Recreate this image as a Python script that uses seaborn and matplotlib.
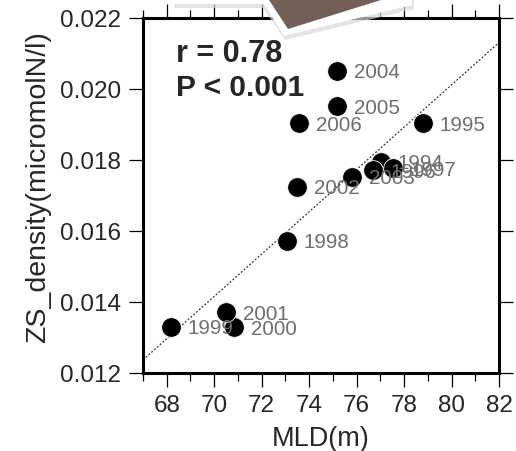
import numpy as np
import pandas as pd
import matplotlib.pyplot as plt
import seaborn as sns
from matplotlib.ticker import MultipleLocator
from matplotlib.patches import Polygon

# -----------------------------
# Data
# -----------------------------
years = ["1994", "1995", "1996", "1997", "1998", "1999", "2000",
         "2001", "2002", "2003", "2004", "2005", "2006"]
mld = [77.01, 78.78, 76.70, 77.54, 73.05, 68.16, 70.83,
       70.49, 73.47, 75.79, 75.16, 75.16, 73.57]
zs_density = [0.01795, 0.01903, 0.01772, 0.01777, 0.01573, 0.01330, 0.01329,
              0.01371, 0.01725, 0.01753, 0.02052, 0.01952, 0.01903]

# regression line end points
fit_x = [67.0, 82.0]
fit_y = [0.01237, 0.02131]

df = pd.DataFrame({"year": years, "MLD": mld, "ZS": zs_density})

sns.set_style("ticks")
plt.rcParams["font.family"] = ["Liberation Sans", "DejaVu Sans"]

fig = plt.figure(figsize=(5.16, 4.51), dpi=100)
ax = fig.add_axes([0.2771, 0.1729, 0.69, 0.7871])

# fitted line
sns.lineplot(x=fit_x, y=fit_y, ax=ax, color="#333333",
             linestyle=(0, (1.5, 1.5)), linewidth=0.9, zorder=1)

# points
sns.scatterplot(data=df, x="MLD", y="ZS", ax=ax, color="black",
                edgecolor="white", linewidth=0.6, s=200, zorder=3)

for yr, x, y in zip(years, mld, zs_density):
    ax.annotate(yr, (x, y), xytext=(12.5, -1.5), textcoords="offset points",
                ha="left", va="center", fontsize=14.8, color="#6e6e6e",
                zorder=4)

ax.text(0.093, 0.898, "r = 0.78", transform=ax.transAxes, fontsize=22,
        fontweight="bold", ha="left", va="center")
ax.text(0.093, 0.803, "P < 0.001", transform=ax.transAxes, fontsize=21.5,
        fontweight="bold", ha="left", va="center")

# -----------------------------
# Axes styling
# -----------------------------
ax.set_xlim(67, 82)
ax.set_ylim(0.012, 0.022)
ax.xaxis.set_major_locator(MultipleLocator(2))
ax.xaxis.set_minor_locator(MultipleLocator(1))
ax.yaxis.set_major_locator(MultipleLocator(0.002))
ax.yaxis.set_major_formatter(plt.FormatStrFormatter("%.3f"))

ax.tick_params(which="both", direction="out", top=True, right=True,
               labelsize=17.5, width=0.9, color="black")
ax.tick_params(which="major", length=10, pad=6)
ax.tick_params(which="minor", length=5.8)

for sp in ax.spines.values():
    sp.set_linewidth(2.2)
    sp.set_color("black")

ax.set_xlabel("MLD(m)", fontsize=19.5, labelpad=6)
ax.set_ylabel("ZS_density(micromolN/l)", fontsize=20.5, labelpad=6)
ax.yaxis.label.set_y(0.525)

# -----------------------------
# Page-curl overlay at the top
# -----------------------------
def px(points):
    return [(x / 516, 1 - y / 451) for x, y in points]

shadow = Polygon(px([(174, 0), (174, 8), (263, 8), (285, 40), (414, 9), (414, 0)]),
                 closed=True, transform=fig.transFigure, facecolor="#d9d9d9",
                 edgecolor="none", alpha=0.7, zorder=10)
paper = Polygon(px([(174, 0), (174, 4), (264, 4), (284, 36), (412, 5), (412, 0)]),
                closed=True, transform=fig.transFigure, facecolor="white",
                edgecolor="none", zorder=11)
fold = Polygon(px([(269, 0), (288, 29), (381, 0)]), closed=True,
               transform=fig.transFigure, facecolor="#735f55",
               edgecolor="none", zorder=12)
for p in (shadow, paper, fold):
    fig.add_artist(p)

plt.savefig("out.png", dpi=100)
